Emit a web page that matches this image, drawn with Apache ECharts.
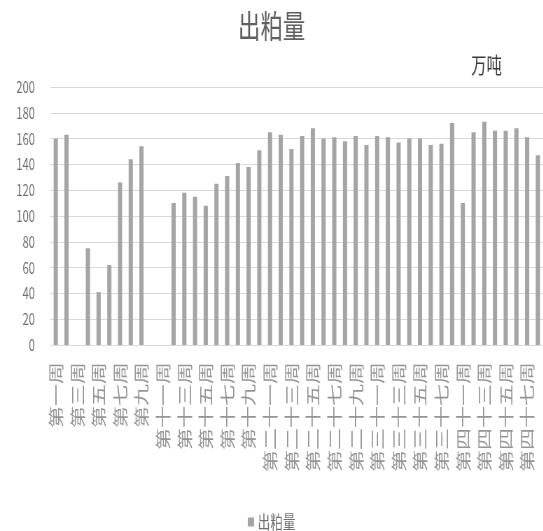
<!DOCTYPE html>
<html>
<head>
<meta charset="utf-8">
<title>出粕量</title>
<script src="https://cdn.jsdelivr.net/npm/echarts@6/dist/echarts.min.js"></script>
<style>
  html, body { margin: 0; padding: 0; background: #ffffff; overflow: hidden; }
  #wrap { width: 543px; height: 531px; overflow: hidden; }
  /* chart is laid out wide, then narrowed horizontally to give the condensed look */
  #chart { width: 776px; height: 531px; transform: scaleX(0.7); transform-origin: 0 0; }
</style>
</head>
<body>
<div id="wrap"><div id="chart"></div></div>
<script>
// weekly categories (weeks 39 and 40 are absent in the series)
const weeks = [
  '第一周', '第二周', '第三周', '第四周', '第五周', '第六周', '第七周', '第八周', '第九周', '第十周',
  '第十一周', '第十二周', '第十三周', '第十四周', '第十五周', '第十六周', '第十七周', '第十八周', '第十九周', '第二十周',
  '第二十一周', '第二十二周', '第二十三周', '第二十四周', '第二十五周', '第二十六周', '第二十七周', '第二十八周', '第二十九周', '第三十周',
  '第三十一周', '第三十二周', '第三十三周', '第三十四周', '第三十五周', '第三十六周', '第三十七周', '第三十八周',
  '第四十一周', '第四十二周', '第四十三周', '第四十四周', '第四十五周', '第四十六周', '第四十七周', '第四十八周'
];

// meal output, 10k tonnes (null = no data that week)
const mealOutput = [
  160, 163, null, 75, 41, 62, 126, 144, 154, null,
  null, 110, 118, 115, 108, 125, 131, 141, 138, 151,
  165, 163, 152, 162, 168, 160, 161, 158, 162, 155,
  162, 161, 157, 160, 160, 155, 156, 172,
  110, 165, 173, 166, 166, 168, 161, 147
];

const seriesName = '出粕量';
const chartTitle = '出粕量';
const unitText = '万吨';

const chart = echarts.init(document.getElementById('chart'));

chart.setOption({
  animation: false,
  backgroundColor: '#ffffff',
  textStyle: { fontFamily: '"Noto Sans CJK SC", "Noto Sans", sans-serif' },
  title: {
    text: chartTitle,
    left: 'center',
    top: 5,
    textStyle: { fontSize: 32, fontWeight: 'normal', color: '#606060' }
  },
  graphic: [{
    type: 'text',
    x: 717,
    y: 65,
    style: {
      text: unitText,
      align: 'right',
      verticalAlign: 'middle',
      fontSize: 22,
      fill: '#3a3a3a',
      fontFamily: '"Noto Sans CJK SC", sans-serif'
    }
  }],
  legend: {
    data: [seriesName],
    left: 'center',
    top: 508,
    icon: 'rect',
    itemWidth: 9,
    itemHeight: 9,
    textStyle: { fontSize: 18, color: '#707070' }
  },
  grid: {
    left: 72,
    top: 87,
    width: 705,
    height: 258
  },
  xAxis: {
    type: 'category',
    data: weeks,
    axisLine: { lineStyle: { color: '#d9d9d9', width: 1 } },
    axisTick: { show: false },
    axisLabel: {
      interval: 1,
      rotate: 90,
      margin: 17,
      fontSize: 22,
      color: '#959595'
    }
  },
  yAxis: {
    type: 'value',
    min: 0,
    max: 200,
    interval: 20,
    axisLine: { show: false },
    axisTick: { show: false },
    axisLabel: { margin: 22, fontSize: 16, color: '#707070' },
    splitLine: { lineStyle: { color: '#d9d9d9', width: 1 } }
  },
  series: [{
    name: seriesName,
    type: 'bar',
    data: mealOutput,
    barWidth: 6,
    itemStyle: { color: '#a5a5a5' }
  }]
});
</script>
</body>
</html>
